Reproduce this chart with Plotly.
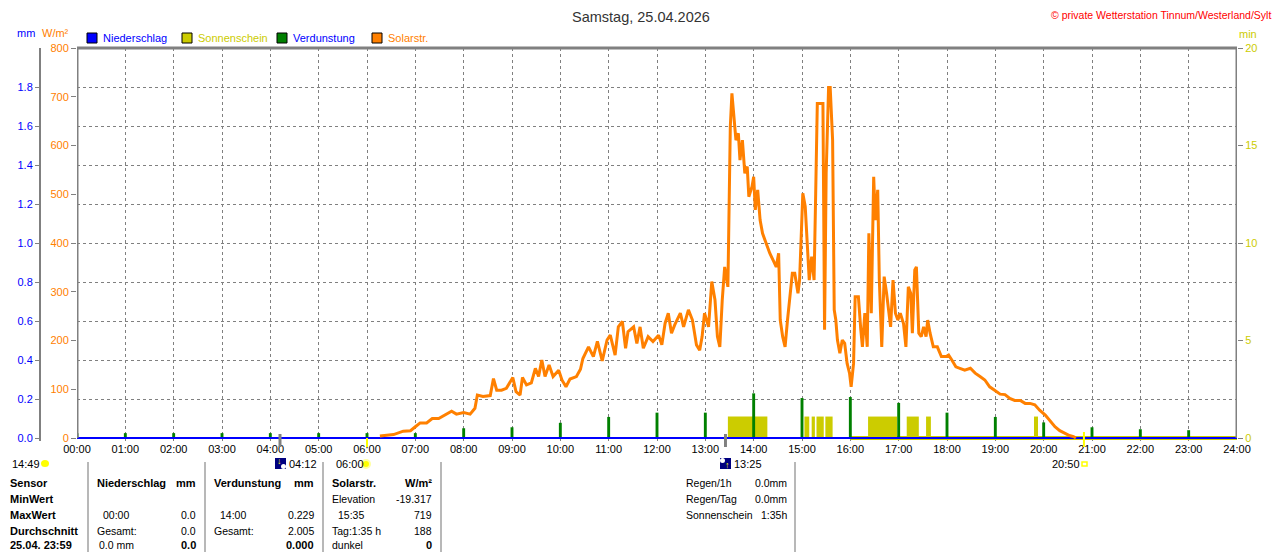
import plotly.graph_objects as go

# Seite hat 8px Rand, daher Figur 1272x544 und Pixel-Koordinaten um 8 verschoben
OFF = 8
W, H = 1280 - OFF, 552 - OFF

hours = list(range(25))
hour_labels = [f"{h:02d}:00" for h in hours]

# Solarstrahlung W/m2
solar_time = ["06:16", "06:33", "06:45", "06:54", "07:00", "07:06", "07:14", "07:21", "07:29", "07:37",
              "07:45", "07:51", "08:00", "08:08", "08:14", "08:17", "08:24", "08:33", "08:37", "08:41",
              "08:47", "08:53", "09:01", "09:05", "09:10", "09:13", "09:18", "09:24", "09:29", "09:33",
              "09:37", "09:41", "09:46", "09:51", "09:58", "10:02", "10:07", "10:12", "10:20", "10:25",
              "10:28", "10:35", "10:41", "10:46", "10:52", "10:58", "11:02", "11:08", "11:12", "11:17",
              "11:21", "11:24", "11:31", "11:35", "11:39", "11:43", "11:49", "11:55", "12:02", "12:06",
              "12:10", "12:14", "12:18", "12:22", "12:29", "12:33", "12:39", "12:44", "12:49", "12:53",
              "12:56", "12:59", "13:04", "13:08", "13:12", "13:15", "13:18", "13:21", "13:24", "13:28",
              "13:30", "13:31", "13:33", "13:36", "13:38", "13:41", "13:43", "13:46", "13:49", "13:52",
              "13:54", "13:58", "14:00", "14:02", "14:05", "14:08", "14:11", "14:14", "14:17", "14:20",
              "14:25", "14:28", "14:31", "14:33", "14:36", "14:39", "14:42", "14:45", "14:48", "14:51",
              "14:55", "14:57", "14:59", "15:01", "15:04", "15:07", "15:09", "15:12", "15:15", "15:17",
              "15:19", "15:26", "15:28", "15:30", "15:33", "15:35", "15:38", "15:40", "15:42", "15:44",
              "15:47", "15:50", "15:53", "15:56", "15:59", "16:01", "16:04", "16:06", "16:10", "16:13",
              "16:15", "16:18", "16:21", "16:23", "16:26", "16:29", "16:31", "16:34", "16:36", "16:39",
              "16:42", "16:45", "16:48", "16:50", "16:53", "16:56", "16:59", "17:02", "17:06", "17:09",
              "17:12", "17:15", "17:17", "17:20", "17:22", "17:25", "17:28", "17:31", "17:34", "17:36",
              "17:39", "17:43", "17:48", "17:53", "17:59", "18:02", "18:06", "18:11", "18:16", "18:22",
              "18:29", "18:35", "18:41", "18:47", "18:53", "18:59", "19:06", "19:12", "19:18", "19:24",
              "19:31", "19:37", "19:43", "19:49", "19:55", "20:02", "20:08", "20:14", "20:20", "20:26",
              "20:32", "20:37", "20:40"]
solar_wm2 = [4, 7, 14, 15, 23, 31, 31, 40, 40, 48,
             55, 49, 52, 49, 61, 88, 85, 87, 122, 98,
             98, 102, 124, 95, 88, 124, 109, 113, 143, 126,
             160, 126, 150, 126, 139, 119, 105, 121, 126, 141,
             163, 187, 167, 198, 158, 201, 211, 170, 228, 239,
             184, 218, 228, 194, 228, 184, 208, 198, 211, 191,
             235, 256, 215, 232, 256, 228, 263, 242, 191, 180,
             208, 256, 228, 321, 283, 208, 187, 283, 351, 310,
             502, 639, 707, 639, 611, 625, 570, 611, 543, 557,
             495, 516, 536, 468, 509, 447, 420, 406, 392, 379,
             362, 351, 379, 242, 208, 187, 242, 290, 338, 338,
             297, 324, 420, 502, 475, 379, 324, 372, 324, 502,
             686, 686, 222, 543, 719, 719, 611, 263, 242, 201,
             174, 201, 194, 153, 133, 105, 153, 290, 290, 222,
             187, 256, 187, 420, 256, 536, 447, 509, 324, 187,
             331, 297, 256, 228, 324, 256, 242, 256, 235, 187,
             310, 297, 215, 345, 351, 215, 208, 228, 208, 242,
             215, 187, 187, 167, 167, 170, 160, 146, 143, 139,
             143, 133, 126, 119, 105, 98, 90, 89, 81, 77,
             77, 71, 71, 68, 57, 47, 34, 23, 15, 10,
             5, 3, 0]

# Verdunstung mm je Stunde
evap_hour = list(range(24))
evap_mm = [0.025, 0.025, 0.025, 0.025, 0.025, 0.025, 0.025, 0.025, 0.05, 0.055,
           0.078, 0.108, 0.13, 0.13, 0.229, 0.205, 0.21, 0.18, 0.13, 0.108,
           0.08, 0.055, 0.045, 0.04]

# Sonnenschein: Beginn, Dauer in min, Wert in min
sun_start = ["13:28", "15:03", "15:12", "15:18", "15:29", "16:22", "17:10", "17:34", "19:48"]
sun_len = [49, 6, 4, 9, 9, 36, 15, 6, 5]
sun_min = [1.1, 1.1, 1.1, 1.1, 1.1, 1.1, 1.1, 1.1, 1.1]
sun_base_time = ["16:00", "24:00"]
sun_base = [0, 0]

# Niederschlag
rain_time = ["00:00", "24:00"]
rain_mm = [0.0, 0.0]

mm_ticks = [0.0, 0.2, 0.4, 0.6, 0.8, 1.0, 1.2, 1.4, 1.6, 1.8]
wm2_ticks = [0, 100, 200, 300, 400, 500, 600, 700, 800]
min_ticks = [0, 5, 10, 15, 20]

moon_times = ["04:12", "13:25"]
sun_times = ["06:00", "20:50"]

ORANGE = "#FF8000"
GREEN = "#008000"
YELLOW = "#CCCC00"
BLUE = "#0000FF"
GRAY = "#808080"


def to_h(t):
    hh, mm = t.split(":")
    return int(hh) + int(mm) / 60


def px(x):
    return (x - OFF) / W


def py(y):
    return 1 - (y - OFF) / H


fig = go.Figure()

# traces in der Reihenfolge: gelb (y), gruen + blau (y2), orange (y3)
fig.add_trace(go.Bar(x=[to_h(t) + d / 120 for t, d in zip(sun_start, sun_len)], y=sun_min,
                     width=[d / 60 for d in sun_len], marker=dict(color=YELLOW, line=dict(width=0)),
                     yaxis="y"))
fig.add_trace(go.Scatter(x=[to_h(t) for t in sun_base_time], y=sun_base, mode="lines",
                         line=dict(color=YELLOW, width=4), yaxis="y"))
fig.add_trace(go.Bar(x=evap_hour, y=evap_mm, width=0.06, marker=dict(color=GREEN, line=dict(width=0)),
                     yaxis="y2"))
fig.add_trace(go.Scatter(x=[to_h(t) for t in rain_time], y=rain_mm, mode="lines",
                         line=dict(color=BLUE, width=2), yaxis="y2"))
fig.add_trace(go.Scatter(x=[to_h(t) for t in solar_time], y=solar_wm2, mode="lines",
                         line=dict(color=ORANGE, width=3), yaxis="y3"))

ydom = [py(440.925), py(48)]

fig.update_layout(
    width=W, height=H, autosize=False,
    margin=dict(l=0, r=0, t=0, b=0, pad=0, autoexpand=False),
    paper_bgcolor="white", plot_bgcolor="white",
    showlegend=False, barmode="overlay",
    font=dict(family="Arial", size=11, color="black"),
    xaxis=dict(domain=[px(77), px(1237)], range=[0, 24], tickvals=hours, ticktext=hour_labels,
               showgrid=True, gridcolor=GRAY, griddash="3px,3px", gridwidth=1, automargin=False,
               zeroline=False, showline=False, ticks="", tickfont=dict(size=11, color="black")),
    yaxis=dict(domain=ydom, range=[-0.15, 20], side="right", anchor="x", tickvals=min_ticks,
               tickfont=dict(color=YELLOW, size=11), showgrid=False, zeroline=False, automargin=False,
               ticks="outside", ticklen=5, tickcolor=GRAY, showline=False),
    yaxis2=dict(overlaying="y", anchor="free", position=px(40), side="left", range=[-0.015, 2.0],
                tickvals=mm_ticks, ticktext=[f"{v:.1f}" for v in mm_ticks], automargin=False,
                tickfont=dict(color=BLUE, size=11), showgrid=True, gridcolor=GRAY, griddash="3px,3px",
                gridwidth=1, zeroline=False, showline=True, linecolor=GRAY, linewidth=2,
                ticks="outside", ticklen=4, tickcolor=GRAY),
    yaxis3=dict(overlaying="y", anchor="x", side="left", range=[-6, 800], tickvals=wm2_ticks,
                tickfont=dict(color=ORANGE, size=11), showgrid=False, zeroline=False, automargin=False,
                ticks="outside", ticklen=5, tickcolor=GRAY, showline=False),
)

shapes = []
# Rahmen
for xv in (0, 24):
    shapes.append(dict(type="line", xref="x", yref="paper", x0=xv, x1=xv, y0=py(438), y1=py(48),
                       line=dict(color=GRAY, width=3)))
shapes.append(dict(type="line", xref="x", yref="paper", x0=0, x1=24, y0=py(48), y1=py(48),
                   line=dict(color=GRAY, width=3)))
# Mond / Sonne Markierungen an der Zeitachse
for t in moon_times:
    shapes.append(dict(type="line", xref="x", yref="paper", x0=to_h(t), x1=to_h(t), y0=py(434), y1=py(447),
                       line=dict(color=GRAY, width=3)))
shapes.append(dict(type="line", xref="x", yref="paper", x0=to_h(sun_times[0]), x1=to_h(sun_times[0]),
                   y0=py(438), y1=py(447), line=dict(color="#FFFF00", width=2)))
shapes.append(dict(type="line", xref="x", yref="paper", x0=to_h(sun_times[1]), x1=to_h(sun_times[1]),
                   y0=py(432), y1=py(447), line=dict(color="#FFFF00", width=2)))

# Legende
legend = [(87, BLUE, "Niederschlag", BLUE), (182, YELLOW, "Sonnenschein", YELLOW),
          (277, GREEN, "Verdunstung", BLUE), (372, ORANGE, "Solarstr.", ORANGE)]
for lx, fill, _, _ in legend:
    shapes.append(dict(type="rect", xref="paper", yref="paper", x0=px(lx), x1=px(lx + 10),
                       y0=py(43), y1=py(33), fillcolor=fill, line=dict(color="black", width=1)))

# Icons unter der Achse
shapes.append(dict(type="circle", xref="paper", yref="paper", x0=px(41), x1=px(49), y0=py(467), y1=py(460),
                   fillcolor="#FFFF00", line=dict(width=0)))
for ix in (275, 720):
    shapes.append(dict(type="rect", xref="paper", yref="paper", x0=px(ix), x1=px(ix + 11),
                       y0=py(469), y1=py(458), fillcolor="#000080", line=dict(width=0)))
shapes.append(dict(type="circle", xref="paper", yref="paper", x0=px(281), x1=px(286), y0=py(469), y1=py(464),
                   fillcolor="white", line=dict(width=0)))
shapes.append(dict(type="circle", xref="paper", yref="paper", x0=px(720), x1=px(725), y0=py(463), y1=py(458),
                   fillcolor="white", line=dict(width=0)))
shapes.append(dict(type="circle", xref="paper", yref="paper", x0=px(362), x1=px(370), y0=py(468), y1=py(460),
                   fillcolor="#FFFF00", line=dict(color="#FFFFA0", width=2)))
shapes.append(dict(type="rect", xref="paper", yref="paper", x0=px(1082), x1=px(1087), y0=py(466), y1=py(462),
                   fillcolor="white", line=dict(color="#FFFF00", width=1.5)))

# Tabellen-Trennlinien
for sx in (88, 205, 323, 441, 795):
    shapes.append(dict(type="line", xref="paper", yref="paper", x0=px(sx), x1=px(sx), y0=py(462), y1=py(552),
                       line=dict(color="#A0A0A0", width=1.5)))

fig.update_layout(shapes=shapes)

ann = []


def txt(x, y, s, anchor="left", color="black", size=10.5, bold=False):
    ann.append(dict(x=px(x), y=py(y), xref="paper", yref="paper", text=f"<b>{s}</b>" if bold else s,
                    showarrow=False, xanchor=anchor, yanchor="middle",
                    font=dict(family="Arial", size=size, color=color)))


txt(641, 17, "Samstag, 25.04.2026", anchor="center", color="#333333", size=14.5)
txt(1273, 15, "© private Wetterstation Tinnum/Westerland/Sylt", anchor="right", color="#FF0000", size=10.5)
txt(15, 33, "mm", color=BLUE, size=11)
txt(40, 33, "W/m²", color=ORANGE, size=11)
txt(1237, 34, "min", color=YELLOW, size=11)
for lx, _, label, tcol in legend:
    txt(lx + 14, 38, label, color=tcol, size=11)

txt(279, 461, "↓", anchor="center", color="#FFFF00", size=9)
txt(727, 465, "↑", anchor="center", color="#FFFF00", size=9)
txt(10, 464, "14:49", size=11)
txt(287, 464, "04:12", size=11)
txt(334, 464, "06:00", size=11)
txt(732, 464, "13:25", size=11)
txt(1050, 464, "20:50", size=11)

rows = [483, 499, 515, 531, 545]
for yv, lab in zip(rows, ["Sensor", "MinWert", "MaxWert", "Durchschnitt", "25.04. 23:59"]):
    txt(8, yv, lab, bold=True, size=11)

txt(95, rows[0], "Niederschlag", bold=True, size=11)
txt(198, rows[0], "mm", anchor="right", bold=True, size=11)
txt(101, rows[2], "00:00")
txt(198, rows[2], "0.0", anchor="right")
txt(95, rows[3], "Gesamt:")
txt(198, rows[3], "0.0", anchor="right")
txt(97, rows[4], "0.0 mm")
txt(198, rows[4], "0.0", anchor="right", bold=True, size=11)

txt(212, rows[0], "Verdunstung", bold=True, size=11)
txt(316, rows[0], "mm", anchor="right", bold=True, size=11)
txt(218, rows[2], "14:00")
txt(316, rows[2], "0.229", anchor="right")
txt(212, rows[3], "Gesamt:")
txt(316, rows[3], "2.005", anchor="right")
txt(316, rows[4], "0.000", anchor="right", bold=True, size=11)

txt(330, rows[0], "Solarstr.", bold=True, size=11)
txt(434, rows[0], "W/m²", anchor="right", bold=True, size=11)
txt(330, rows[1], "Elevation")
txt(434, rows[1], "-19.317", anchor="right")
txt(336, rows[2], "15:35")
txt(434, rows[2], "719", anchor="right")
txt(330, rows[3], "Tag:1:35 h")
txt(434, rows[3], "188", anchor="right")
txt(330, rows[4], "dunkel")
txt(434, rows[4], "0", anchor="right", bold=True, size=11)

for yv, lab, val in zip(rows[:3], ["Regen/1h", "Regen/Tag", "Sonnenschein"], ["0.0mm", "0.0mm", "1:35h"]):
    txt(684, yv, lab)
    txt(789, yv, val, anchor="right")

fig.update_layout(annotations=ann)

fig.write_html("out.html")
